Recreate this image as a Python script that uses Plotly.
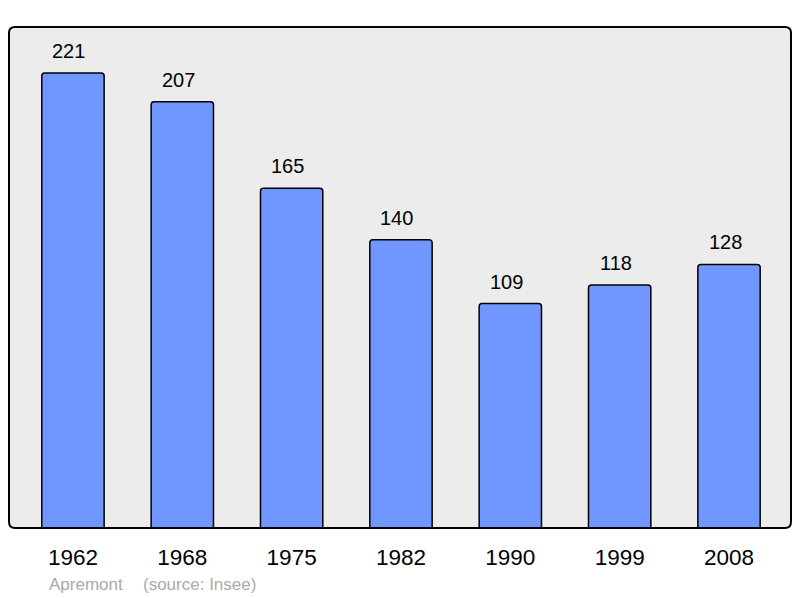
import plotly.graph_objects as go

years = ["1962", "1968", "1975", "1982", "1990", "1999", "2008"]
population = [221, 207, 165, 140, 109, 118, 128]
commune = "Apremont"
source = "(source: Insee)"

FONT = "Liberation Sans, Arial, sans-serif"

fig = go.Figure()
fig.add_trace(go.Bar(
    x=years, y=population,
    width=0.57,
    marker=dict(color="#7097ff", line=dict(color="#000000", width=1.5), cornerradius=3),
    hoverinfo="skip",
))

# value labels (category index positions on the category axis)
for i, v in enumerate(population):
    fig.add_annotation(x=i, y=v, xref="x", yref="y", text=str(v), showarrow=False,
                       yshift=22, xshift=-4,
                       font=dict(size=20, color="#000000", family=FONT))

# rounded plot-area border
rx = 6 / 782
ry = 6 / 501
path = (f"M {rx},0 L {1-rx},0 Q 1,0 1,{ry} "
        f"L 1,{1-ry} Q 1,1 {1-rx},1 L {rx},1 "
        f"Q 0,1 0,{1-ry} L 0,{ry} Q 0,0 {rx},0 Z")
fig.add_shape(type="path", path=path, xref="paper", yref="paper",
              line=dict(color="#000000", width=2), layer="above")


def px_to_paper_x(px):
    return (px - 9) / 782


def px_to_paper_y(py):
    return (528 - py) / 501


fig.add_annotation(x=px_to_paper_x(47), y=px_to_paper_y(584), xref="paper", yref="paper",
                   text=commune, showarrow=False, xanchor="left", yanchor="middle",
                   font=dict(size=17, color="#aaaaaa", family=FONT))
fig.add_annotation(x=px_to_paper_x(141), y=px_to_paper_y(584), xref="paper", yref="paper",
                   text=source, showarrow=False, xanchor="left", yanchor="middle",
                   font=dict(size=17, color="#aaaaaa", family=FONT))

fig.update_layout(
    width=800, height=598,
    margin=dict(l=9, r=9, t=27, b=70),
    paper_bgcolor="#ffffff",
    plot_bgcolor="#ececec",
    showlegend=False,
    font=dict(family=FONT, color="#000000"),
    xaxis=dict(type="category", range=[-0.585, 6.567], showgrid=False, zeroline=False,
               ticks="outside", ticklen=9, tickcolor="rgba(0,0,0,0)",
               tickfont=dict(size=22.5, color="#000000", family=FONT), showline=False),
    yaxis=dict(range=[0, 243.3], showgrid=False, zeroline=False, showticklabels=False,
               showline=False),
)

fig.write_html("out.html", config={"displayModeBar": False},
               post_script="document.body.style.margin='0';")
